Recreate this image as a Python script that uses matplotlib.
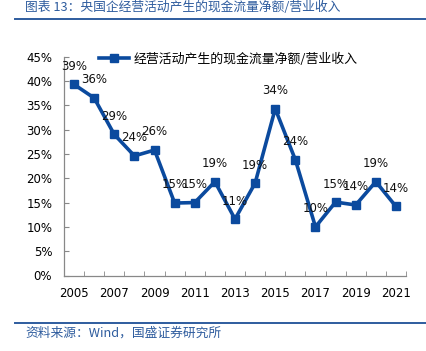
import matplotlib
matplotlib.use("Agg")
import matplotlib.pyplot as plt
import numpy as np
from matplotlib.ticker import FuncFormatter, FixedLocator

years = list(range(2005, 2022))
ratio = [0.393, 0.365, 0.290, 0.246, 0.258, 0.149, 0.150, 0.193, 0.116, 0.190,
         0.343, 0.238, 0.100, 0.151, 0.145, 0.193, 0.142]
value_labels = ["39%", "36%", "29%", "24%", "26%", "15%", "15%", "19%", "11%", "19%",
                "34%", "24%", "10%", "15%", "14%", "19%", "14%"]
year_labels = ["2005", "2007", "2009", "2011", "2013", "2015", "2017", "2019", "2021"]

title = "图表 13：央国企经营活动产生的现金流量净额/营业收入"
series_name = "经营活动产生的现金流量净额/营业收入"
source = "资料来源：Wind，国盛证券研究所"

cjk = ["Noto Sans CJK SC", "DejaVu Sans"]
line_col = "#0B4A9E"
head_col = "#2E5C9E"

fig = plt.figure(figsize=(4.27, 3.51), dpi=100)
ax = fig.add_axes([64 / 427, 75.5 / 351, 342 / 427, 218.8 / 351])

x = np.arange(len(years))
ax.plot(x, ratio, color=line_col, lw=2.6, marker="s", ms=6.2,
        markerfacecolor=line_col, markeredgecolor=line_col, label=series_name)

# data labels sit just above each point, like the source chart
for xi, yi, lab in zip(x, ratio, value_labels):
    ax.annotate(lab, (xi, yi), xytext=(0, 13), textcoords="offset points",
                ha="center", va="center", fontsize=8.5, color="#111111")

ax.set_xlim(-0.5, len(years) - 0.5)
ax.set_ylim(0, 0.45)
ax.set_yticks(np.arange(0, 0.451, 0.05))
ax.yaxis.set_major_formatter(FuncFormatter(lambda v, p: "%d%%" % round(v * 100)))
ax.set_xticks(x[::2])
ax.set_xticklabels(year_labels)
ax.xaxis.set_minor_locator(FixedLocator(np.arange(-0.5, len(years), 1.0)))

ax.tick_params(axis="x", which="major", length=0, pad=8, labelsize=8.5)
ax.tick_params(axis="x", which="minor", direction="in", length=3.5, color="#888888")
ax.tick_params(axis="y", direction="in", length=3.5, color="#888888", pad=8.5, labelsize=8.5)

for s in ["top", "right"]:
    ax.spines[s].set_visible(False)
for s in ["left", "bottom"]:
    ax.spines[s].set_color("#888888")
    ax.spines[s].set_linewidth(0.9)

leg = ax.legend(loc="center left", bbox_to_anchor=(99 / 427, 1 - 59 / 351),
                bbox_transform=fig.transFigure, frameon=False, handlelength=2.3,
                handletextpad=0.35, borderpad=0, borderaxespad=0,
                prop={"family": cjk, "size": 9.3})

fig.text(25 / 427, 1 - 7.5 / 351, title, family=cjk, style="italic", fontsize=9.2,
         color=head_col, ha="left", va="center")
fig.add_artist(plt.Line2D([15 / 427, 1], [1 - 19 / 351, 1 - 19 / 351],
                          color=head_col, lw=1.4, transform=fig.transFigure))
fig.add_artist(plt.Line2D([15 / 427, 1], [1 - 322.5 / 351, 1 - 322.5 / 351],
                          color=head_col, lw=1.4, transform=fig.transFigure))
fig.text(25 / 427, 1 - 333 / 351, source, family=cjk, style="italic", fontsize=9.2,
         color=head_col, ha="left", va="center")

fig.savefig("out.png", dpi=100)
